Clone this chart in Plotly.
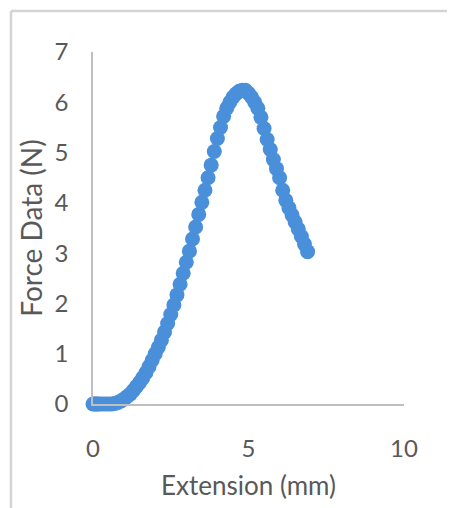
import plotly.graph_objects as go

extension_mm = [0.0, 0.05, 0.1, 0.15, 0.2, 0.3, 0.4, 0.5, 0.6, 0.7,
                0.8, 0.9, 1.0, 1.1, 1.2, 1.3, 1.4, 1.5, 1.6, 1.7,
                1.8, 1.9, 2.0, 2.1, 2.2, 2.3, 2.4, 2.5, 2.6, 2.7,
                2.8, 2.9, 3.0, 3.1, 3.2, 3.3, 3.4, 3.5, 3.6, 3.7,
                3.8, 3.9, 4.0, 4.1, 4.2, 4.3, 4.4, 4.5, 4.6, 4.7,
                4.8, 4.9, 5.0, 5.1, 5.2, 5.3, 5.4, 5.5, 5.6, 5.7,
                5.8, 5.9, 6.0, 6.1, 6.2, 6.3, 6.4, 6.5, 6.6, 6.7,
                6.8, 6.9]
force_n = [0.0, 0.0, 0.0, 0.0, 0.0, 0.0, 0.0, 0.0, 0.0, 0.01,
           0.03, 0.06, 0.1, 0.15, 0.2, 0.27, 0.35, 0.43, 0.52, 0.62,
           0.74, 0.87, 1.0, 1.13, 1.27, 1.43, 1.6, 1.78, 1.97, 2.17,
           2.38, 2.6, 2.82, 3.04, 3.28, 3.52, 3.77, 4.01, 4.25, 4.5,
           4.75, 5.02, 5.28, 5.5, 5.72, 5.88, 6.0, 6.1, 6.17, 6.22,
           6.24, 6.24, 6.18, 6.1, 6.0, 5.88, 5.7, 5.48, 5.26, 5.06,
           4.86, 4.68, 4.5, 4.25, 4.05, 3.9, 3.76, 3.62, 3.48, 3.33,
           3.18, 3.03]

x_ticks = [0, 5, 10]
y_ticks = [0, 1, 2, 3, 4, 5, 6, 7]

W, H = 455, 508
OFF = 8  # page body margin offset
ML, MT = 93 - OFF, 52 - OFF
MR = W - (404 - OFF)
MB = H - (404 - OFF)
pw, ph = W - ML - MR, H - MT - MB

grey = "#595959"
font_family = "Lato, 'Open Sans', sans-serif"

fig = go.Figure()
fig.add_trace(go.Scatter(
    x=extension_mm, y=force_n, mode="markers",
    marker=dict(color="#4a8fda", size=15, line=dict(width=0)),
    cliponaxis=False, showlegend=False,
))

# chart-area border (top and left visible; continues past right/bottom edges)
bx = (11 - OFF - ML) / pw
by = (H - MB - (11 - OFF)) / ph
border = dict(color="#d4d4d4", width=2.5)
fig.add_shape(type="line", xref="paper", yref="paper",
              x0=bx, x1=(W + 10 - ML) / pw, y0=by, y1=by, line=border, layer="above")
fig.add_shape(type="line", xref="paper", yref="paper",
              x0=bx, x1=bx, y0=by, y1=-(MB + 10) / ph, line=border, layer="above")

fig.update_layout(
    width=W, height=H,
    margin=dict(l=ML, r=MR, t=MT, b=MB, autoexpand=False),
    paper_bgcolor="white", plot_bgcolor="white",
    font=dict(family=font_family, color=grey),
    xaxis=dict(range=[0, 10], tickvals=x_ticks, showgrid=False, zeroline=False,
               showline=True, linecolor="#bfbfbf", linewidth=1.5,
               ticks="", tickfont=dict(size=24, color=grey),
               ticklabelstandoff=22, automargin=False,
               title=dict(text="Extension (mm)", font=dict(size=26, color=grey), standoff=16)),
    yaxis=dict(range=[0, 7], tickvals=y_ticks, showgrid=False, zeroline=False,
               showline=True, linecolor="#bfbfbf", linewidth=1.5,
               ticks="", tickfont=dict(size=24, color=grey),
               ticklabelstandoff=18, automargin=False,
               title=dict(text="Force Data (N)", font=dict(size=28, color=grey), standoff=4)),
)

fig.write_html("out.html")
